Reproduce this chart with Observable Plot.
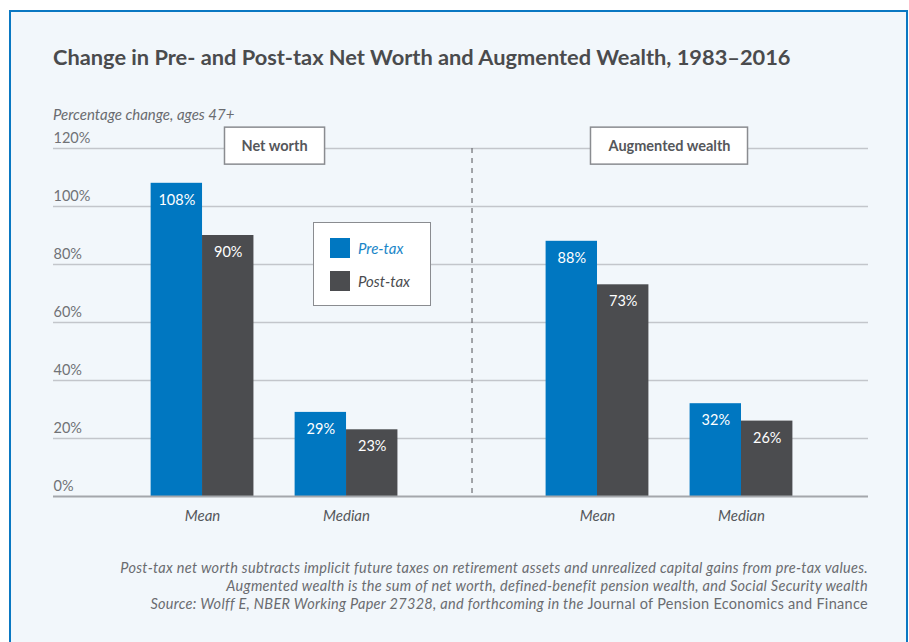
<!DOCTYPE html>
<html>
<head>
<meta charset="utf-8">
<script src="https://cdn.jsdelivr.net/npm/d3@7"></script>
<script src="https://cdn.jsdelivr.net/npm/@observablehq/plot@0.6"></script>
<style>
  html, body { margin: 0; padding: 0; background: #ffffff; }
  body { width: 909px; height: 642px; position: relative; overflow: hidden; font-family: "Lato", "Noto Sans", sans-serif; }
  #frame { position: absolute; left: 9px; top: 10px; width: 895px; height: 700px; border: 2px solid #0a78c2; background: #f2f7fb; }
  #title { position: absolute; left: 53px; top: 43px; font-size: 21.8px; font-weight: 700; color: #4a4b4d; white-space: nowrap; }
  #subtitle { position: absolute; left: 53px; top: 105px; font-size: 15px; font-style: italic; color: #6a6c70; white-space: nowrap; }
  #chart { position: absolute; left: 0; top: 100px; }
  #legend { position: absolute; left: 313px; top: 222px; width: 116px; height: 82px; background: #fff; border: 1.5px solid #8a8c90; }
  .li { position: absolute; left: 16px; height: 20px; display: flex; align-items: center; font-size: 15px; font-style: italic; white-space: nowrap; }
  .sw { width: 20px; height: 20px; margin-right: 8px; }
  #footer { position: absolute; right: 41px; top: 559px; text-align: right; font-size: 14.5px; letter-spacing: 0.3px; font-style: italic; color: #6a6c70; line-height: 18px; white-space: nowrap; }
  #footer .up { font-style: normal; }
</style>
</head>
<body>
<div id="frame"></div>
<div id="title">Change in Pre- and Post-tax Net Worth and Augmented Wealth, 1983–2016</div>
<div id="subtitle">Percentage change, ages 47+</div>
<div id="chart"></div>
<div id="legend"></div>
<div id="footer">
  <div>Post-tax net worth subtracts implicit future taxes on retirement assets and unrealized capital gains from pre-tax values.</div>
  <div>Augmented wealth is the sum of net worth, defined-benefit pension wealth, and Social Security wealth</div>
  <div>Source: Wolff E, NBER Working Paper 27328, and forthcoming in the <span class="up">Journal of Pension Economics and Finance</span></div>
</div>
<script>
// ---- data ----
const panels = ["Net worth", "Augmented wealth"];
const stats = ["Mean", "Median"];
const seriesNames = ["Pre-tax", "Post-tax"];
const preTax = [108, 29, 88, 32];   // NW Mean, NW Median, AW Mean, AW Median
const postTax = [90, 23, 73, 26];
const yTicks = [0, 20, 40, 60, 80, 100, 120];
const colors = ["#0077c1", "#4b4c4f"];

// ---- layout helpers (category index -> slot position) ----
const panelStep = 2.743;   // distance between panels in units of stat spacing
const halfBar = 0.357;     // bar width in units of stat spacing
const slot = (p, s) => p * panelStep + s;

const groups = [];
panels.forEach((p, pi) => stats.forEach((s, si) => groups.push({panel: p, stat: s, pi, si, pos: slot(pi, si)})));

const bars = [];
groups.forEach((g, i) => {
  bars.push({...g, series: seriesNames[0], value: preTax[i], x1: g.pos - halfBar, x2: g.pos});
  bars.push({...g, series: seriesNames[1], value: postTax[i], x1: g.pos, x2: g.pos + halfBar});
});
const panelLabels = panels.map((p, pi) => ({panel: p, pos: (slot(pi, 0) + slot(pi, 1)) / 2}));
const separator = [(slot(0, 1) + slot(1, 0)) / 2];

const font = "Lato, 'Noto Sans', sans-serif";

const plot = Plot.plot({
  width: 909,
  height: 440,
  marginLeft: 53,
  marginRight: 41,
  marginTop: 48,
  marginBottom: 44,
  style: {background: "transparent", fontFamily: font, overflow: "visible"},
  x: {type: "linear", domain: [-1.035, 4.625], axis: null},
  y: {domain: [0, 120], axis: null},
  color: {domain: seriesNames, range: colors},
  marks: [
    Plot.ruleY(yTicks.filter(d => d > 0), {stroke: "#c3c6cb", strokeWidth: 1.5}),
    Plot.text(yTicks, {y: d => d, text: d => d + "%", frameAnchor: "left", textAnchor: "start", dy: -10, fill: "#707276", fontSize: 14.5}),
    Plot.ruleX(separator, {x: d => d, stroke: "#6c6e72", strokeWidth: 1.2, strokeDasharray: "5,5"}),
    Plot.rectY(bars, {x1: "x1", x2: "x2", y: "value", fill: "series"}),
    Plot.ruleY([0], {stroke: "#a4a7ac", strokeWidth: 2}),
    Plot.text(bars, {x: d => (d.x1 + d.x2) / 2, y: "value", text: d => d.value + "%", dy: 17, fill: "#ffffff", fontSize: 14.5}),
    Plot.text(groups, {x: "pos", text: "stat", frameAnchor: "bottom", dy: 24, fill: "#55575b", fontSize: 15, fontStyle: "italic"}),
    Plot.text(panelLabels, {x: "pos", y: 120, text: "panel", dy: -2, fill: "#55575b", fontSize: 14.5, fontWeight: "bold", className: "panel-label"})
  ]
});
document.getElementById("chart").appendChild(plot);

// boxes behind panel labels
d3.select(plot).selectAll("g.panel-label text").each(function() {
  const bb = this.getBBox();
  const padX = 17, h = 37;
  const cy = bb.y + bb.height / 2;
  d3.select(this.parentNode).insert("rect", () => this)
    .attr("transform", this.getAttribute("transform"))
    .attr("x", bb.x - padX).attr("y", cy - h / 2)
    .attr("width", bb.width + 2 * padX).attr("height", h)
    .attr("fill", "#ffffff").attr("stroke", "#8a8c90").attr("stroke-width", 1.5);
});

// legend
const leg = document.getElementById("legend");
seriesNames.forEach((s, i) => {
  const it = document.createElement("div");
  it.className = "li";
  it.style.top = (15 + i * 33) + "px";
  it.innerHTML = `<span class="sw" style="background:${colors[i]}"></span><span style="color:${i === 0 ? "#1a86c8" : "#4b4c4f"}">${s}</span>`;
  leg.appendChild(it);
});
</script>
</body>
</html>
